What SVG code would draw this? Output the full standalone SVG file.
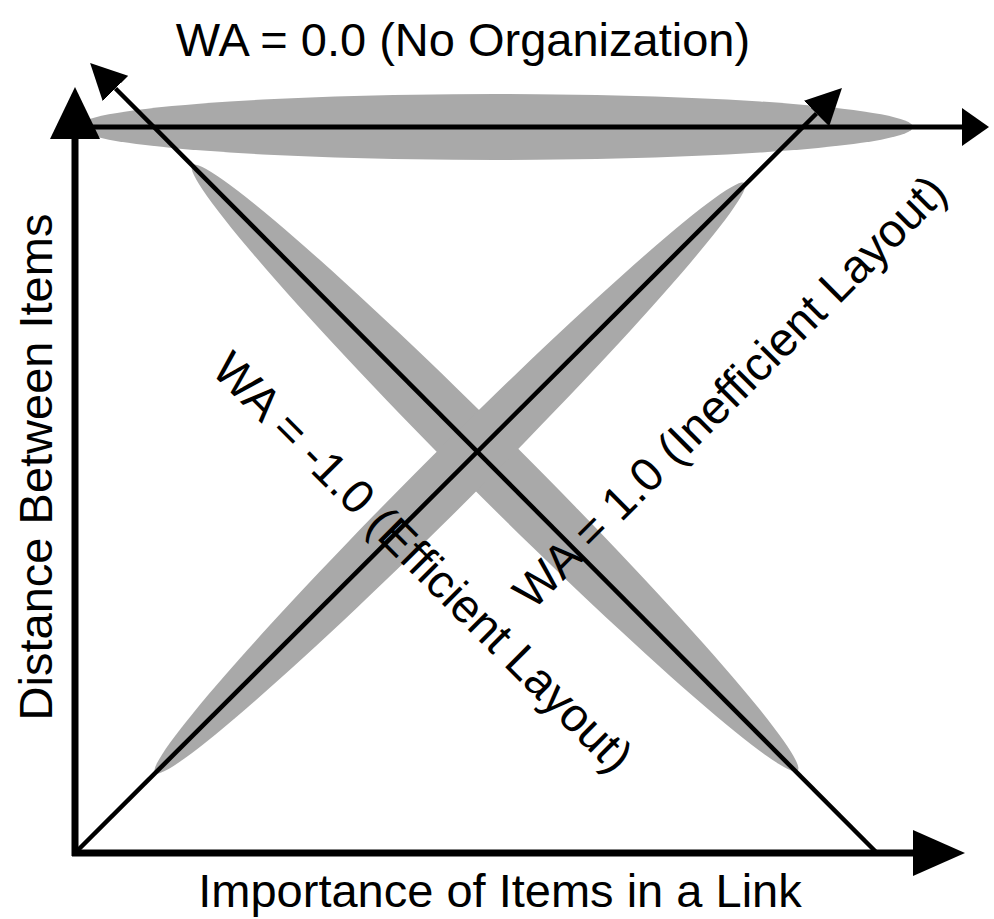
<svg xmlns="http://www.w3.org/2000/svg" width="994" height="919" viewBox="0 0 994 919">
  <style>
    .band { fill: #a9a9a9; }
    .axis { stroke: #000; stroke-width: 7; fill: none; }
    .top { stroke: #000; stroke-width: 5; fill: none; }
    .diag { stroke: #000; stroke-width: 4.5; fill: none; }
    .lbl { font-family: "Liberation Sans", Arial, Helvetica, sans-serif; font-size: 47px; fill: #000; text-anchor: middle; }
  </style>
  <defs>
    <marker id="axisHeadX" markerUnits="userSpaceOnUse" viewBox="0 -23 52 46" refX="0" refY="0" markerWidth="52" markerHeight="46" orient="auto">
      <path d="M0,-23 L52,0 L0,23 Z" fill="#000"/>
    </marker>
    <marker id="axisHeadY" markerUnits="userSpaceOnUse" viewBox="0 -25 52 50" refX="0" refY="0" markerWidth="52" markerHeight="50" orient="auto">
      <path d="M0,-25 L52,0 L0,25 Z" fill="#000"/>
    </marker>
    <marker id="topHead" markerUnits="userSpaceOnUse" viewBox="0 -19 27 38" refX="0" refY="0" markerWidth="27" markerHeight="38" orient="auto">
      <path d="M0,-19 L27,0 L0,19 Z" fill="#000"/>
    </marker>
    <marker id="diagHead" markerUnits="userSpaceOnUse" viewBox="0 -18 36 36" refX="0" refY="0" markerWidth="36" markerHeight="36" orient="auto">
      <path d="M0,-18 L36,0 L0,18 Z" fill="#000"/>
    </marker>
  </defs>

  <g id="bands">
    <ellipse id="band-none" class="band" cx="495" cy="127" rx="418" ry="33"/>
    <ellipse id="band-efficient" class="band" cx="495" cy="468" rx="428" ry="30" transform="rotate(45 495 468)"/>
    <ellipse id="band-inefficient" class="band" cx="450" cy="478" rx="417" ry="28" transform="rotate(-45 450 478)"/>
  </g>

  <g id="connectors">
    <path id="x-axis" class="axis" d="M72,853 H913" marker-end="url(#axisHeadX)"/>
    <path id="y-axis" class="axis" d="M75,856 V139" marker-end="url(#axisHeadY)"/>
    <path id="line-none" class="top" d="M75,127 H962" marker-end="url(#topHead)"/>
    <path id="line-efficient" class="diag" d="M877,853 L115.5,88.5" marker-end="url(#diagHead)"/>
    <path id="line-inefficient" class="diag" d="M75,853 L816.5,113.5" marker-end="url(#diagHead)"/>
  </g>

  <g id="labels">
    <text id="label-top" class="lbl" x="463" y="56">WA = 0.0 (No Organization)</text>
    <text id="label-x" class="lbl" x="500" y="907">Importance of Items in a Link</text>
    <text id="label-y" class="lbl" transform="translate(52 467) rotate(-90)">Distance Between Items</text>
    <text id="label-efficient" class="lbl" transform="translate(411.5 573.5) rotate(45)">WA = -1.0 (Efficient Layout)</text>
    <text id="label-inefficient" class="lbl" transform="translate(741 403) rotate(-45)">WA = 1.0 (Inefficient Layout)</text>
  </g>
</svg>
